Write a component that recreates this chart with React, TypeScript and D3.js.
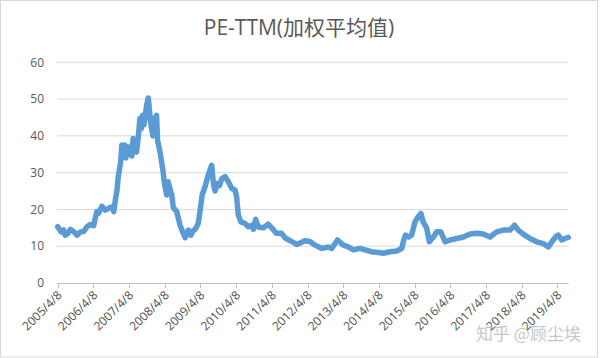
import React, { useEffect, useRef } from 'react';
import * as d3 from 'd3';

// PE-TTM weighted average
const dates: string[] = [
  '2005-04-08', '2005-05-14', '2005-06-08', '2005-06-24', '2005-07-22', '2005-08-15', '2005-09-19', '2005-10-22',
  '2005-11-26', '2005-12-30', '2006-02-03', '2006-03-07', '2006-04-11', '2006-04-27', '2006-05-14', '2006-06-01',
  '2006-07-05', '2006-08-08', '2006-09-12', '2006-10-16', '2006-11-03', '2006-11-19', '2006-12-06', '2006-12-19',
  '2007-01-13', '2007-01-24', '2007-02-07', '2007-02-22', '2007-03-07', '2007-03-22', '2007-04-07', '2007-04-22',
  '2007-05-07', '2007-05-20', '2007-06-07', '2007-06-24', '2007-07-13', '2007-07-28', '2007-08-13', '2007-08-25',
  '2007-09-08', '2007-09-23', '2007-10-05', '2007-10-22', '2007-11-08', '2007-11-24', '2007-12-09', '2007-12-29',
  '2008-01-14', '2008-01-25', '2008-02-19', '2008-03-17', '2008-04-05', '2008-04-27', '2008-05-13', '2008-06-01',
  '2008-06-18', '2008-07-04', '2008-08-08', '2008-09-11', '2008-10-08', '2008-11-02', '2008-12-05', '2008-12-30',
  '2009-01-23', '2009-02-13', '2009-03-16', '2009-04-03', '2009-04-26', '2009-05-24', '2009-06-21', '2009-07-14',
  '2009-08-01', '2009-08-18', '2009-09-04', '2009-10-02', '2009-10-20', '2009-11-12', '2009-12-16', '2010-01-19',
  '2010-02-23', '2010-03-27', '2010-04-13', '2010-04-30', '2010-05-27', '2010-07-07', '2010-08-10', '2010-09-15',
  '2010-10-01', '2010-10-25', '2010-11-21', '2011-01-12', '2011-03-02', '2011-04-23', '2011-05-27', '2011-07-17',
  '2011-08-21', '2011-10-11', '2011-12-19', '2012-01-22', '2012-03-12', '2012-05-02', '2012-06-23', '2012-09-01',
  '2012-11-07', '2012-12-11', '2013-02-08', '2013-04-08', '2013-05-29', '2013-07-19', '2013-09-27', '2013-11-17',
  '2014-01-25', '2014-04-02', '2014-05-22', '2014-07-31', '2014-10-07', '2014-11-28', '2014-12-16', '2015-01-05',
  '2015-02-04', '2015-03-09', '2015-04-12', '2015-05-15', '2015-06-12', '2015-07-05', '2015-08-10', '2015-09-06',
  '2015-10-17', '2015-11-21', '2016-01-01', '2016-02-15', '2016-04-05', '2016-06-13', '2016-08-20', '2016-10-27',
  '2017-01-04', '2017-03-11', '2017-05-19', '2017-07-26', '2017-10-02', '2017-12-10', '2018-01-24', '2018-03-04',
  '2018-04-24', '2018-07-02', '2018-09-09', '2018-11-16', '2019-01-06', '2019-02-11', '2019-03-24', '2019-04-17',
  '2019-05-22', '2019-06-25', '2019-07-29',
];

const peValues: number[] = [
  15.3, 13.9, 14.4, 13.0, 13.5, 14.6, 14.0, 13.0,
  13.9, 14.0, 15.3, 15.9, 15.6, 17.6, 19.4, 19.0,
  20.9, 19.8, 20.3, 20.7, 19.4, 22.5, 25.3, 29.0,
  33.0, 37.5, 34.5, 37.5, 34.0, 37.0, 35.0, 37.0,
  34.5, 39.3, 36.0, 35.6, 40.0, 44.7, 42.0, 45.6,
  43.0, 46.0, 48.3, 50.3, 45.5, 42.0, 40.0, 44.7,
  45.6, 38.8, 35.6, 31.1, 27.0, 23.9, 27.5, 25.5,
  23.9, 20.5, 19.4, 15.7, 13.9, 12.3, 14.4, 13.0,
  14.2, 14.6, 16.2, 19.5, 24.0, 26.1, 28.9, 30.7,
  32.0, 27.1, 25.0, 27.1, 26.5, 28.4, 28.9, 27.5,
  25.7, 25.3, 23.4, 18.5, 16.6, 16.2, 15.3, 15.7,
  14.6, 17.3, 15.2, 15.0, 16.0, 14.5, 13.5, 13.5,
  12.3, 11.5, 10.5, 10.9, 11.5, 11.3, 10.3, 9.4,
  9.8, 9.4, 11.7, 10.3, 9.8, 9.0, 9.4, 9.0,
  8.5, 8.3, 8.1, 8.5, 8.7, 9.4, 11.5, 13.0,
  12.5, 13.0, 16.6, 18.0, 18.9, 16.6, 14.9, 11.2,
  12.5, 13.9, 13.9, 11.2, 11.7, 12.1, 12.5, 13.3,
  13.5, 13.3, 12.5, 13.9, 14.4, 14.4, 15.7, 14.4,
  13.3, 12.1, 11.2, 10.7, 9.8, 11.2, 12.6, 13.0,
  11.7, 12.1, 12.4,
];

const xTickLabels: string[] = [
  '2005/4/8', '2006/4/8', '2007/4/8', '2008/4/8', '2009/4/8', '2010/4/8', '2011/4/8', '2012/4/8',
  '2013/4/8', '2014/4/8', '2015/4/8', '2016/4/8', '2017/4/8', '2018/4/8', '2019/4/8',
];

const yTicks: number[] = [0, 10, 20, 30, 40, 50, 60];

const title = 'PE-TTM(加权平均值)';
const watermark = '知乎 @顾尘埃';

export default function App() {
  const svgRef = useRef<SVGSVGElement>(null);

  useEffect(() => {
    if (!svgRef.current) return;
    const width = 600;
    const height = 358;
    const parse = d3.timeParse('%Y-%m-%d');
    const parseTick = d3.timeParse('%Y/%m/%d');

    const svg = d3.select(svgRef.current)
      .attr('width', width)
      .attr('height', height)
      .attr('viewBox', `0 0 ${width} ${height}`);
    svg.selectAll('*').remove();

    const data = dates.map((d, i) => ({ date: parse(d)!, value: peValues[i] }));

    const x = d3.scaleTime()
      .domain([data[0].date, data[data.length - 1].date])
      .range([57.7, 568.3]);
    const y = d3.scaleLinear().domain([0, 60]).range([283, 62.3]);

    svg.append('rect')
      .attr('x', 0.5).attr('y', 0.5)
      .attr('width', 597).attr('height', 356.5)
      .attr('fill', '#fff')
      .attr('stroke', '#d9d9d9');

    // Title
    svg.append('text')
      .attr('x', 299)
      .attr('y', 35)
      .attr('text-anchor', 'middle')
      .attr('fill', '#595959')
      .attr('font-size', '21px')
      .attr('font-family', '"Open Sans", "Noto Sans CJK SC", sans-serif')
      .text(title);

    // Gridlines
    svg.append('g')
      .selectAll('line')
      .data(yTicks.filter(t => t > 0))
      .enter()
      .append('line')
      .attr('x1', 57).attr('x2', 568.5)
      .attr('y1', d => y(d)).attr('y2', d => y(d))
      .attr('stroke', '#d9d9d9')
      .attr('stroke-width', 1);

    // Y labels
    svg.append('g')
      .selectAll('text')
      .data(yTicks)
      .enter()
      .append('text')
      .attr('x', 44)
      .attr('y', d => y(d))
      .attr('dy', '0.35em')
      .attr('text-anchor', 'end')
      .attr('fill', '#595959')
      .attr('font-size', '12px')
      .attr('font-family', '"Open Sans", sans-serif')
      .text(d => d);

    // X axis line and ticks
    const xTicks = xTickLabels.map(s => parseTick(s)!);
    svg.append('line')
      .attr('x1', 57).attr('x2', 568.5)
      .attr('y1', 283.5).attr('y2', 283.5)
      .attr('stroke', '#bfbfbf');
    svg.append('g')
      .selectAll('line')
      .data(xTicks)
      .enter()
      .append('line')
      .attr('x1', d => Math.round(x(d)) + 0.5).attr('x2', d => Math.round(x(d)) + 0.5)
      .attr('y1', 283.5).attr('y2', 288)
      .attr('stroke', '#bfbfbf');

    svg.append('g')
      .selectAll('text')
      .data(xTicks)
      .enter()
      .append('text')
      .attr('transform', (d) => `translate(${x(d) + 5},${296}) rotate(-45)`)
      .attr('text-anchor', 'end')
      .attr('fill', '#4f4f4f')
      .attr('font-size', '12px')
      .attr('font-family', '"Open Sans", sans-serif')
      .text((_, i) => xTickLabels[i]);

    // Line
    const line = d3.line<{ date: Date; value: number }>()
      .x(d => x(d.date))
      .y(d => y(d.value));
    svg.append('path')
      .datum(data)
      .attr('d', line)
      .attr('fill', 'none')
      .attr('stroke', '#5b9bd5')
      .attr('stroke-width', 5.5)
      .attr('stroke-linejoin', 'round')
      .attr('stroke-linecap', 'round');

    // Watermark
    svg.append('text')
      .attr('x', 476)
      .attr('y', 340)
      .attr('fill', '#bdbdbd')
      .attr('opacity', 0.85)
      .attr('font-size', '17px')
      .attr('font-family', '"Noto Sans CJK SC", sans-serif')
      .text(watermark);
  }, []);

  return (
    <svg ref={svgRef} style={{ position: 'absolute', left: 0, top: 0, display: 'block' }} />
  );
}
